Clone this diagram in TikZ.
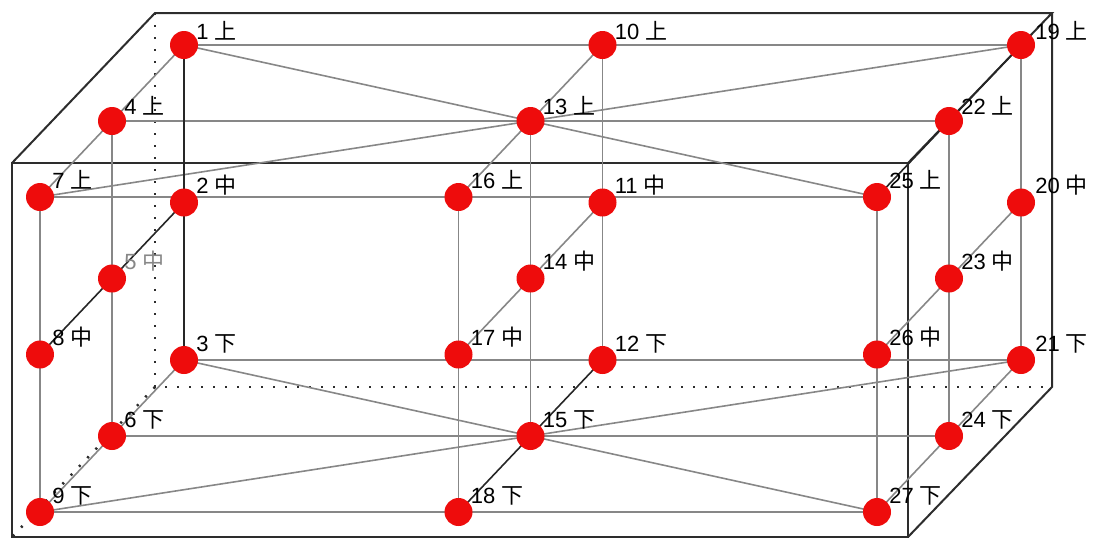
\documentclass[tikz,border=0pt]{standalone}
\usepackage{fontspec}
\setmainfont{Liberation Sans}
\newfontfamily\cjk{Noto Sans CJK SC}
\usepackage{tikz}
\usetikzlibrary{positioning}
\usetikzlibrary{calc}

\definecolor{ballred}{RGB}{238,12,12}
\definecolor{linegray}{RGB}{135,135,135}
\definecolor{edgegray}{RGB}{45,45,45}

\tikzset{
  edge/.style={edgegray, line width=1.5pt},
  hidden/.style={edgegray, line width=1.9pt, dash pattern={on 1.6pt off 7.4pt}},
  thin grid/.style={linegray, line width=1.2pt},
  axis line/.style={black!85, line width=1.2pt},
  lbl/.style={anchor=base west, inner sep=0pt, font=\fontsize{16.5}{19}\selectfont}
}

\begin{document}
\begin{tikzpicture}[x=0.75pt,y=0.75pt,yscale=-1,xscale=1]

\useasboundingbox (0,0) rectangle (1097,540);

% Box corners
\coordinate (ftl) at (12,163);
\coordinate (ftr) at (908,163);
\coordinate (fbr) at (908,537);
\coordinate (fbl) at (12,537);
\coordinate (btl) at (155,13);
\coordinate (btr) at (1052,13);
\coordinate (bbr) at (1052,387);
\coordinate (bbl) at (155,387);

% Points, left column
\coordinate (p1) at (184,45);
\coordinate (p2) at (184,202.5);
\coordinate (p3) at (184,360);
\coordinate (p4) at (112,121);
\coordinate (p5) at (112,278.5);
\coordinate (p6) at (112,436);
\coordinate (p7) at (40,197);
\coordinate (p8) at (40,354.5);
\coordinate (p9) at (40,512);

% Points, middle column
\coordinate (p10) at (602.5,45);
\coordinate (p11) at (602.5,202.5);
\coordinate (p12) at (602.5,360);
\coordinate (p13) at (530.5,121);
\coordinate (p14) at (530.5,278.5);
\coordinate (p15) at (530.5,436);
\coordinate (p16) at (458.5,197);
\coordinate (p17) at (458.5,354.5);
\coordinate (p18) at (458.5,512);

% Points, right column
\coordinate (p19) at (1021,45);
\coordinate (p20) at (1021,202.5);
\coordinate (p21) at (1021,360);
\coordinate (p22) at (949,121);
\coordinate (p23) at (949,278.5);
\coordinate (p24) at (949,436);
\coordinate (p25) at (877,197);
\coordinate (p26) at (877,354.5);
\coordinate (p27) at (877,512);

% Box
\draw   [edge] (fbl) rectangle (ftr) ;
\draw   [edge] (ftl) -- (btl) -- (btr) -- (ftr) ;
\draw   [edge] (btr) -- (bbr) -- (fbr) ;
\draw   [hidden] (btl) -- (bbl) -- (bbr) ;
\draw   [hidden] (bbl) -- (fbl) ;

% Horizontal lines
\draw   [thin grid] (p1) -- (p19) ;
\draw   [thin grid] (p4) -- (p22) ;
\draw   [thin grid] (p7) -- (p25) ;
\draw   [thin grid] (p3) -- (p21) ;
\draw   [thin grid] (p6) -- (p24) ;
\draw   [thin grid] (p9) -- (p27) ;

% Crossing lines
\draw   [thin grid] (p1) -- (p25) ;
\draw   [thin grid] (p7) -- (p19) ;
\draw   [thin grid] (p3) -- (p27) ;
\draw   [thin grid] (p9) -- (p21) ;

% Vertical lines
\draw   [thin grid] (p4) -- (p6) ;
\draw   [thin grid] (p7) -- (p9) ;
\draw   [thin grid] (p10) -- (p12) ;
\draw   [thin grid] (p13) -- (p15) ;
\draw   [thin grid] (p16) -- (p18) ;
\draw   [thin grid] (p19) -- (p21) ;
\draw   [thin grid] (p22) -- (p24) ;
\draw   [thin grid] (p25) -- (p27) ;

% Depth lines
\draw   [thin grid] (p1) -- (p7) ;
\draw   [thin grid] (p3) -- (p9) ;
\draw   [thin grid] (p10) -- (p16) ;
\draw   [thin grid] (p11) -- (p17) ;
\draw   [thin grid] (p20) -- (p26) ;
\draw   [thin grid] (p21) -- (p27) ;

% Dark lines
\draw   [axis line] (p1) -- (p3) ;
\draw   [axis line] (p2) -- (p8) ;
\draw   [axis line] (p12) -- (p18) ;
\draw   [axis line] (p19) -- (p25) ;

% Balls
\foreach \k in {1,...,27}
  \fill [ballred] (p\k) circle [radius=14] ;

% Labels
\path (p1)+(12,-6)   node [lbl] (l1)  {1 {\cjk 上}};
\path (p2)+(12,-9)   node [lbl] (l2)  {2 {\cjk 中}};
\path (p3)+(12,-9)   node [lbl] (l3)  {3 {\cjk 下}};
\path (p4)+(12,-7)   node [lbl] (l4)  {4 {\cjk 上}};
\path (p5)+(12,-9)   node [lbl, text=linegray] (l5)  {5 {\cjk 中}};
\path (p6)+(12,-9)   node [lbl] (l6)  {6 {\cjk 下}};
\path (p7)+(12,-9)   node [lbl] (l7)  {7 {\cjk 上}};
\path (p8)+(12,-9)   node [lbl] (l8)  {8 {\cjk 中}};
\path (p9)+(12,-9)   node [lbl] (l9)  {9 {\cjk 下}};
\path (p10)+(12,-6)  node [lbl] (l10) {10 {\cjk 上}};
\path (p11)+(12,-9)  node [lbl] (l11) {11 {\cjk 中}};
\path (p12)+(12,-9)  node [lbl] (l12) {12 {\cjk 下}};
\path (p13)+(12,-7)  node [lbl] (l13) {13 {\cjk 上}};
\path (p14)+(12,-9)  node [lbl] (l14) {14 {\cjk 中}};
\path (p15)+(12,-9)  node [lbl] (l15) {15 {\cjk 下}};
\path (p16)+(12,-9)  node [lbl] (l16) {16 {\cjk 上}};
\path (p17)+(12,-9)  node [lbl] (l17) {17 {\cjk 中}};
\path (p18)+(12,-9)  node [lbl] (l18) {18 {\cjk 下}};
\path (p19)+(14,-6)  node [lbl] (l19) {19 {\cjk 上}};
\path (p20)+(14,-9)  node [lbl] (l20) {20 {\cjk 中}};
\path (p21)+(14,-9)  node [lbl] (l21) {21 {\cjk 下}};
\path (p22)+(12,-7)  node [lbl] (l22) {22 {\cjk 上}};
\path (p23)+(12,-9)  node [lbl] (l23) {23 {\cjk 中}};
\path (p24)+(12,-9)  node [lbl] (l24) {24 {\cjk 下}};
\path (p25)+(12,-9)  node [lbl] (l25) {25 {\cjk 上}};
\path (p26)+(12,-9)  node [lbl] (l26) {26 {\cjk 中}};
\path (p27)+(12,-9)  node [lbl] (l27) {27 {\cjk 下}};

\end{tikzpicture}
\end{document}
